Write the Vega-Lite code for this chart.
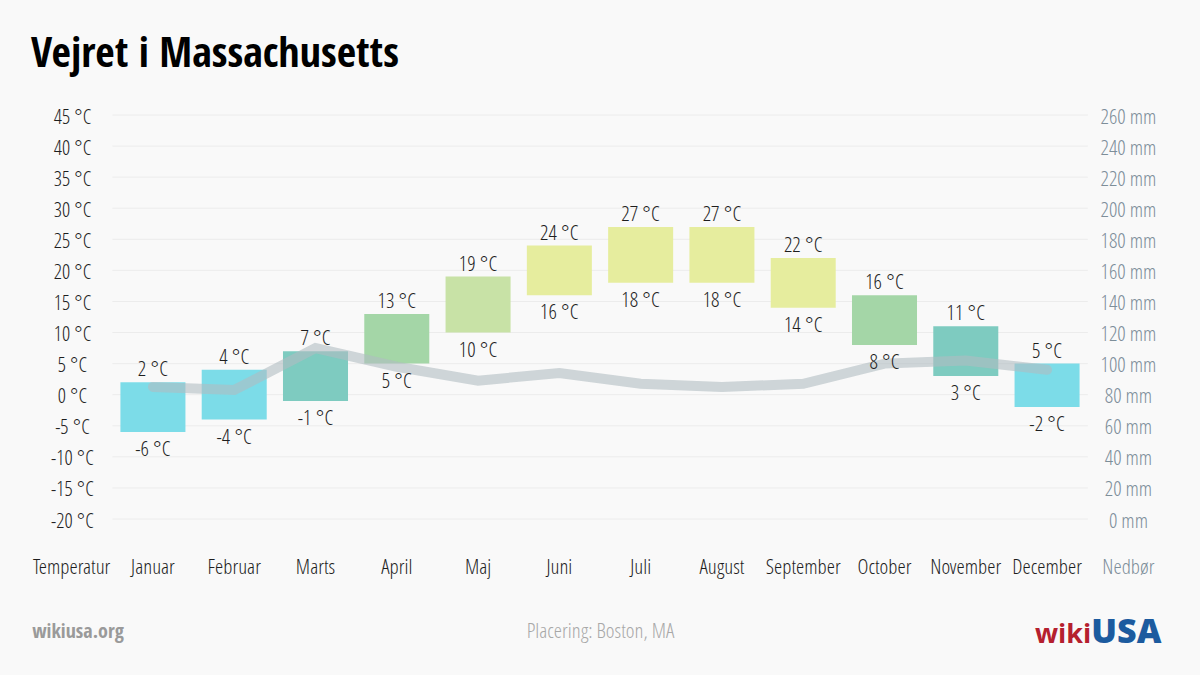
{
  "$schema": "https://vega.github.io/schema/vega-lite/v6.json",
  "width": 1138,
  "height": 404,
  "autosize": {"type": "none"},
  "padding": {"left": 31, "right": 31, "top": 115, "bottom": 156},
  "background": "#f9f9f9",
  "config": {
    "view": {"stroke": null},
    "font": "'Open Sans Condensed Light', 'Open Sans', sans-serif",
    "axisX": {
      "titleFontSize": 21,
      "titleFontWeight": "normal",
      "titleColor": "#a8a8a8",
      "titlePadding": 43,
      "labelAngle": 0,
      "labelFontSize": 21,
      "labelPadding": 37,
      "labelOverlap": false,
      "ticks": false,
      "domain": false,
      "grid": false
    }
  },
  "title": {
    "text": "Vejret i Massachusetts",
    "anchor": "start",
    "frame": "group",
    "font": "'Open Sans Condensed', 'Open Sans', sans-serif",
    "fontSize": 42,
    "fontWeight": "bold",
    "color": "#000000",
    "offset": 30
  },
  "datasets": {
    "months": [
      {"month": "Januar", "min": -6, "max": 2, "precip": 85},
      {"month": "Februar", "min": -4, "max": 4, "precip": 83},
      {"month": "Marts", "min": -1, "max": 7, "precip": 110},
      {"month": "April", "min": 5, "max": 13, "precip": 98},
      {"month": "Maj", "min": 10, "max": 19, "precip": 89},
      {"month": "Juni", "min": 16, "max": 24, "precip": 94},
      {"month": "Juli", "min": 18, "max": 27, "precip": 87},
      {"month": "August", "min": 18, "max": 27, "precip": 85},
      {"month": "September", "min": 14, "max": 22, "precip": 87},
      {"month": "October", "min": 8, "max": 16, "precip": 100},
      {"month": "November", "min": 3, "max": 11, "precip": 102},
      {"month": "December", "min": -2, "max": 5, "precip": 96}
    ],
    "grid": [
      {"t": -20}, {"t": -15}, {"t": -10}, {"t": -5}, {"t": 0}, {"t": 5}, {"t": 10},
      {"t": 15}, {"t": 20}, {"t": 25}, {"t": 30}, {"t": 35}, {"t": 40}, {"t": 45}
    ]
  },
  "layer": [
    {
      "data": {"name": "grid"},
      "mark": {"type": "rule", "color": "#ececec", "strokeWidth": 1, "xOffset": -8, "x2Offset": -8},
      "encoding": {
        "x": {"datum": "Januar", "type": "nominal", "bandPosition": 0,
          "scale": {"domain": ["Temperatur", "Januar", "Februar", "Marts", "April", "Maj", "Juni", "Juli", "August", "September", "October", "November", "December", "Nedbør"], "paddingInner": 0.2, "paddingOuter": 0.1},
          "axis": {"title": "Placering: Boston, MA", "labelColor": {"condition": {"test": "datum.value === 'Nedbør'", "value": "#7d8e99"}, "value": "#1e1e1e"}}},
        "x2": {"datum": "Nedbør", "bandPosition": 0},
        "y": {"field": "t", "type": "quantitative", "scale": {"domain": [-20, 45], "nice": false, "zero": false}, "axis": null}
      }
    },
    {
      "data": {"name": "months"},
      "mark": {"type": "bar"},
      "encoding": {
        "x": {"field": "month", "type": "nominal", "sort": null,
          "scale": {"domain": ["Temperatur", "Januar", "Februar", "Marts", "April", "Maj", "Juni", "Juli", "August", "September", "October", "November", "December", "Nedbør"], "paddingInner": 0.2, "paddingOuter": 0.1},
          "axis": {"title": "Placering: Boston, MA", "labelColor": {"condition": {"test": "datum.value === 'Nedbør'", "value": "#7d8e99"}, "value": "#1e1e1e"}}},
        "y": {"field": "min", "type": "quantitative", "scale": {"domain": [-20, 45], "nice": false, "zero": false},
          "axis": {
            "title": null,
            "values": [-20, -15, -10, -5, 0, 5, 10, 15, 20, 25, 30, 35, 40, 45],
            "labelExpr": "datum.value + ' °C'",
            "labelFontSize": 20.5,
            "labelColor": "#1e1e1e",
            "labelAlign": "center",
            "labelPadding": 0,
            "labelOffset": 2,
            "offset": -41,
            "ticks": false,
            "domain": false,
            "grid": false
          }},
        "y2": {"field": "max"},
        "color": {"field": "max", "type": "quantitative",
          "scale": {"type": "threshold", "domain": [6, 12, 18, 21], "range": ["#7cdce8", "#7ecbc0", "#a4d6a7", "#c8e2a6", "#e6ed9e"]},
          "legend": null}
      }
    },
    {
      "data": {"name": "months"},
      "mark": {"type": "line", "strokeWidth": 10, "strokeCap": "round", "color": "#b0bcc2", "opacity": 0.6},
      "encoding": {
        "x": {"field": "month", "type": "nominal", "sort": null,
          "scale": {"domain": ["Temperatur", "Januar", "Februar", "Marts", "April", "Maj", "Juni", "Juli", "August", "September", "October", "November", "December", "Nedbør"], "paddingInner": 0.2, "paddingOuter": 0.1},
          "axis": {"title": "Placering: Boston, MA", "labelColor": {"condition": {"test": "datum.value === 'Nedbør'", "value": "#7d8e99"}, "value": "#1e1e1e"}}},
        "y": {"field": "precip", "type": "quantitative", "scale": {"domain": [0, 260], "nice": false},
          "axis": {
            "orient": "right",
            "title": null,
            "values": [0, 20, 40, 60, 80, 100, 120, 140, 160, 180, 200, 220, 240, 260],
            "labelExpr": "datum.value + ' mm'",
            "labelFontSize": 21,
            "labelColor": "#7d8e99",
            "labelAlign": "center",
            "labelPadding": 0,
            "labelOffset": 2,
            "offset": -41,
            "ticks": false,
            "domain": false,
            "grid": false
          }}
      }
    },
    {
      "data": {"name": "months"},
      "mark": {"type": "text", "fontSize": 21, "color": "#1e1e1e", "baseline": "middle", "dy": -12, "text": {"expr": "datum.max + ' °C'"}},
      "encoding": {
        "x": {"field": "month", "type": "nominal", "sort": null,
          "scale": {"domain": ["Temperatur", "Januar", "Februar", "Marts", "April", "Maj", "Juni", "Juli", "August", "September", "October", "November", "December", "Nedbør"], "paddingInner": 0.2, "paddingOuter": 0.1},
          "axis": {"title": "Placering: Boston, MA", "labelColor": {"condition": {"test": "datum.value === 'Nedbør'", "value": "#7d8e99"}, "value": "#1e1e1e"}}},
        "y": {"field": "max", "type": "quantitative", "scale": {"domain": [-20, 45], "nice": false, "zero": false}, "axis": null}
      }
    },
    {
      "data": {"name": "months"},
      "mark": {"type": "text", "fontSize": 21, "color": "#1e1e1e", "baseline": "middle", "dy": 18, "text": {"expr": "datum.min + ' °C'"}},
      "encoding": {
        "x": {"field": "month", "type": "nominal", "sort": null,
          "scale": {"domain": ["Temperatur", "Januar", "Februar", "Marts", "April", "Maj", "Juni", "Juli", "August", "September", "October", "November", "December", "Nedbør"], "paddingInner": 0.2, "paddingOuter": 0.1},
          "axis": {"title": "Placering: Boston, MA", "labelColor": {"condition": {"test": "datum.value === 'Nedbør'", "value": "#7d8e99"}, "value": "#1e1e1e"}}},
        "y": {"field": "min", "type": "quantitative", "scale": {"domain": [-20, 45], "nice": false, "zero": false}, "axis": null}
      }
    },
    {
      "data": {"values": [{"brand": "wikiusa.org"}]},
      "mark": {"type": "text", "fontSize": 20, "fontWeight": "bold", "color": "#9a9a9a", "align": "left", "baseline": "middle", "dx": -7, "font": "'Open Sans Condensed', 'Open Sans', sans-serif"},
      "encoding": {
        "x": {"datum": "Temperatur", "type": "nominal", "bandPosition": 0,
          "axis": {"title": "Placering: Boston, MA", "labelColor": {"condition": {"test": "datum.value === 'Nedbør'", "value": "#7d8e99"}, "value": "#1e1e1e"}}},
        "y": {"value": 517},
        "text": {"field": "brand"}
      }
    },
    {
      "data": {"values": [{"brand": "wiki"}]},
      "mark": {"type": "text", "fontSize": 27, "fontWeight": "bold", "color": "#b5202e", "align": "right", "baseline": "alphabetic", "dx": -37, "font": "'Open Sans', sans-serif"},
      "encoding": {
        "x": {"datum": "Nedbør", "type": "nominal",
          "axis": {"title": "Placering: Boston, MA", "labelColor": {"condition": {"test": "datum.value === 'Nedbør'", "value": "#7d8e99"}, "value": "#1e1e1e"}}},
        "y": {"value": 528},
        "text": {"field": "brand"}
      }
    },
    {
      "data": {"values": [{"brand": "USA"}]},
      "mark": {"type": "text", "fontSize": 34, "fontWeight": 800, "color": "#1c5b9f", "align": "left", "baseline": "alphabetic", "dx": -37, "font": "'Open Sans', sans-serif"},
      "encoding": {
        "x": {"datum": "Nedbør", "type": "nominal",
          "axis": {"title": "Placering: Boston, MA", "labelColor": {"condition": {"test": "datum.value === 'Nedbør'", "value": "#7d8e99"}, "value": "#1e1e1e"}}},
        "y": {"value": 528},
        "text": {"field": "brand"}
      }
    }
  ],
  "resolve": {"scale": {"y": "independent"}}
}
